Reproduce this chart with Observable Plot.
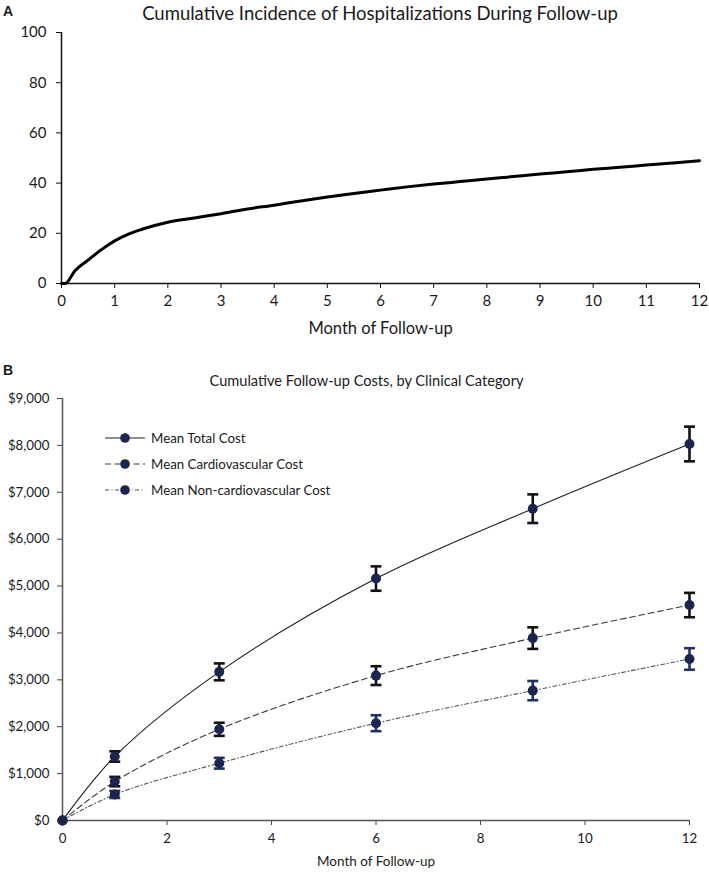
<!DOCTYPE html>
<html>
<head>
<meta charset="utf-8">
<script src="https://cdn.jsdelivr.net/npm/d3@7"></script>
<script src="https://cdn.jsdelivr.net/npm/@observablehq/plot@0.6"></script>
<style>
  html, body { margin: 0; padding: 0; background: #fff; }
  #page { position: relative; width: 709px; height: 872px; font-family: Lato, "Open Sans", sans-serif; color: #1a1a1a; }
  .abs { position: absolute; white-space: nowrap; }
  .panel { font-family: "Liberation Sans", Arial, sans-serif; font-weight: bold; font-size: 14px; }
  #chartA, #chartB { position: absolute; left: 0; }
  #chartA { top: 0; }
  #chartB { top: 345px; }
  #chartA [aria-label="x-axis label"] text { font-size: 16.5px; }
  #chartB [aria-label="x-axis label"] text { font-size: 13.5px; }
  .leg { position: absolute; left: 104px; display: flex; align-items: center; font-size: 13.3px; }
  .leg svg { margin-right: 5px; }
</style>
</head>
<body>
<div id="page">
  <div class="abs panel" style="left:3px;top:3px;">A</div>
  <div class="abs" style="left:0;width:760px;text-align:center;top:2px;font-size:18.5px;">Cumulative Incidence of Hospitalizations During Follow-up</div>
  <div id="chartA"></div>
  <div class="abs panel" style="left:3px;top:362px;">B</div>
  <div class="abs" style="left:0;width:733px;text-align:center;top:372px;font-size:14.6px;">Cumulative Follow-up Costs, by Clinical Category</div>
  <div id="chartB"></div>
  <div id="legend"></div>
</div>
<script>
// ---- Panel A data: cumulative incidence (%) by month ----
const monthsA = [0, 0.07, 0.25, 0.5, 0.75, 1, 1.25, 1.5, 2, 2.5, 3, 3.5, 4, 4.5, 5, 5.5, 6, 6.5, 7, 7.5, 8, 8.5, 9, 9.5, 10, 10.5, 11, 11.5, 12];
const incidenceA = [0, 0, 5, 9.3, 13.5, 17, 19.6, 21.5, 24.4, 26.1, 27.8, 29.7, 31.2, 32.9, 34.5, 35.9, 37.2, 38.5, 39.6, 40.6, 41.6, 42.6, 43.6, 44.5, 45.5, 46.3, 47.2, 48, 48.9];
const xTicksA = [0,1,2,3,4,5,6,7,8,9,10,11,12];
const yTicksA = [0,20,40,60,80,100];

// ---- Panel B data: cumulative costs by clinical category ----
const monthsB = [0, 1, 3, 6, 9, 12];
const seriesNames = ["Mean Total Cost", "Mean Cardiovascular Cost", "Mean Non-cardiovascular Cost"];
const totalCost = [0, 1365, 3170, 5160, 6650, 8030];
const totalErr  = [0, 110, 180, 260, 305, 370];
const cardioCost = [0, 830, 1945, 3090, 3890, 4595];
const cardioErr  = [0, 100, 140, 200, 230, 260];
const nonCardioCost = [0, 555, 1222, 2075, 2770, 3445];
const nonCardioErr  = [0, 75, 115, 170, 205, 230];
const xTicksB = [0,2,4,6,8,10,12];
const yTicksB = [0,1000,2000,3000,4000,5000,6000,7000,8000,9000];

const navy = "#1b2552";
const styles = {
  "Mean Total Cost": {stroke: "#1e1e1e", dash: null, err: "#111111", width: 1.1},
  "Mean Cardiovascular Cost": {stroke: "#3a3a3a", dash: "6,3.5", err: "#111111", width: 1.1},
  "Mean Non-cardiovascular Cost": {stroke: "#555555", dash: "4,2.5,1,2.5", err: "#1f3464", width: 1.1}
};

// Build tables
const dataA = monthsA.map((m, i) => ({month: m, pct: incidenceA[i]}));
const rowsB = [];
[[totalCost, totalErr], [cardioCost, cardioErr], [nonCardioCost, nonCardioErr]].forEach(([vals, errs], s) => {
  monthsB.forEach((m, i) => rowsB.push({series: seriesNames[s], month: m, cost: vals[i], lo: vals[i] - errs[i], hi: vals[i] + errs[i], err: errs[i]}));
});

// ---- Chart A ----
const chartA = Plot.plot({
  width: 709, height: 345,
  marginLeft: 61, marginRight: 10, marginTop: 32, marginBottom: 62,
  style: {fontFamily: "Lato, 'Open Sans', sans-serif", fontSize: "15px", color: "#1a1a1a", background: "transparent"},
  x: {domain: [0, 12]},
  y: {domain: [0, 100]},
  marks: [
    Plot.axisY({ticks: yTicksA, tickSize: 5, tickPadding: 10, label: null, stroke: "#111"}),
    Plot.axisX({ticks: xTicksA, tickSize: 5, tickPadding: 7, label: "Month of Follow-up", labelAnchor: "center", labelOffset: 50, labelArrow: "none", stroke: "#111"}),
    Plot.ruleX([0], {stroke: "#111", strokeWidth: 1.5}),
    Plot.ruleY([0], {stroke: "#111", strokeWidth: 1.5}),
    Plot.line(dataA, {x: "month", y: "pct", stroke: "#000", strokeWidth: 3, curve: "monotone-x"})
  ]
});
document.getElementById("chartA").appendChild(chartA);

// ---- Chart B ----
const capHalf = 0.105; // half cap width in months
const marksB = [
  Plot.axisY({ticks: yTicksB, tickSize: 5, tickPadding: 8, label: null, tickFormat: d => "$" + d3.format(",")(d), stroke: "#444"}),
  Plot.axisX({ticks: xTicksB, tickSize: 5, tickPadding: 8, label: "Month of Follow-up", labelAnchor: "center", labelOffset: 45, labelArrow: "none", stroke: "#444"}),
  Plot.ruleX([0], {stroke: "#555", strokeWidth: 1.5}),
  Plot.ruleY([0], {stroke: "#555", strokeWidth: 1.5})
];
seriesNames.forEach(name => {
  const st = styles[name];
  const rows = rowsB.filter(d => d.series === name);
  const errRows = rows.filter(d => d.err > 0);
  marksB.push(Plot.line(rows, {x: "month", y: "cost", stroke: st.stroke, strokeWidth: st.width, strokeDasharray: st.dash, curve: "catmull-rom"}));
  marksB.push(Plot.ruleX(errRows, {x: "month", y1: "lo", y2: "hi", stroke: st.err, strokeWidth: 2.6}));
  marksB.push(Plot.link(errRows, {x1: d => d.month - capHalf, x2: d => d.month + capHalf, y1: "hi", y2: "hi", stroke: st.err, strokeWidth: 2.6}));
  marksB.push(Plot.link(errRows, {x1: d => d.month - capHalf, x2: d => d.month + capHalf, y1: "lo", y2: "lo", stroke: st.err, strokeWidth: 2.6}));
});
seriesNames.forEach(name => {
  const rows = rowsB.filter(d => d.series === name);
  marksB.push(Plot.dot(rows, {x: "month", y: "cost", r: 5, fill: navy, stroke: "none"}));
});
const chartB = Plot.plot({
  width: 709, height: 527,
  marginLeft: 62, marginRight: 20, marginTop: 53, marginBottom: 52,
  style: {fontFamily: "Lato, 'Open Sans', sans-serif", fontSize: "13.3px", color: "#1a1a1a", background: "transparent"},
  x: {domain: [0, 12]},
  y: {domain: [0, 9000]},
  marks: marksB
});
document.getElementById("chartB").appendChild(chartB);

// ---- Legend (inside panel B) ----
const legTops = [430, 456, 482];
const legend = document.getElementById("legend");
seriesNames.forEach((name, i) => {
  const st = styles[name];
  const div = document.createElement("div");
  div.className = "leg";
  div.style.top = legTops[i] + "px";
  div.innerHTML = `<svg width="42" height="14"><line x1="1" x2="41" y1="7" y2="7" stroke="${st.stroke}" stroke-width="1.1" ${st.dash ? `stroke-dasharray="${st.dash}"` : ""}/><circle cx="21" cy="7" r="4.8" fill="${navy}"/></svg><span>${name}</span>`;
  legend.appendChild(div);
});
</script>
</body>
</html>
